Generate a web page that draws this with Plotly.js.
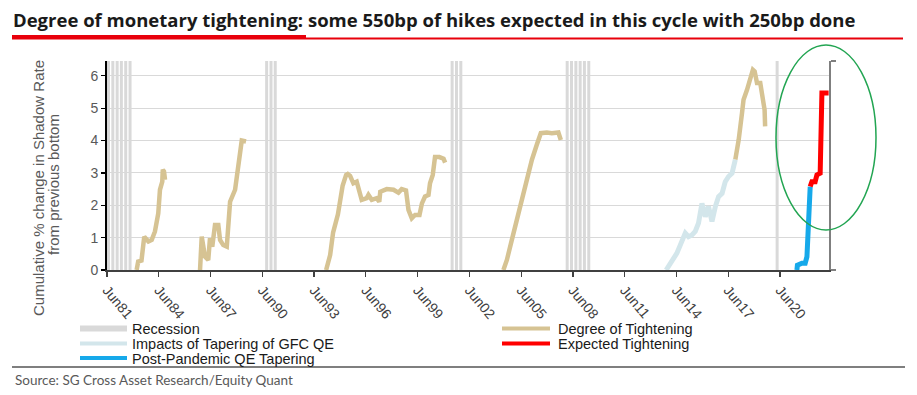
<!DOCTYPE html>
<html><head><meta charset="utf-8">
<script src="https://cdn.plot.ly/plotly-3.0.1.min.js"></script>
<style>html,body{margin:0;padding:0;background:#fff}#chart{width:917px;height:395px}</style>
</head><body><div id="chart"></div>
<script>
// ---------- texts ----------
const titleText = 'Degree of monetary tightening: some 550bp of hikes expected in this cycle with 250bp done';
const sourceText = 'Source: SG Cross Asset Research/Equity Quant';
const yTitleLine1 = 'Cumulative % change in Shadow Rate';
const yTitleLine2 = 'from previous bottom';

// ---------- x ticks ----------
const tickDates = ['1981-07-01','1984-07-01','1987-07-01','1990-07-01','1993-07-01','1996-07-01','1999-07-01','2002-07-01','2005-07-01','2008-07-01','2011-07-01','2014-07-01','2017-07-01','2020-07-01'];
const tickLabels = ['Jun81','Jun84','Jun87','Jun90','Jun93','Jun96','Jun99','Jun02','Jun05','Jun08','Jun11','Jun14','Jun17','Jun20'];
const yTickVals = [0,1,2,3,4,5,6];

// ---------- recessions ----------
const recessionStart = ['1981-08-01','1990-10-01','2001-07-01','2008-03-01','2020-05-01'];
const recessionEnd   = ['1982-12-31','1991-05-31','2002-01-31','2009-08-01','2020-05-31'];

// ---------- Degree of Tightening cycles ----------
const cycle1983Dates = ['1983-03-20','1983-04-22','1983-07-01','1983-08-28','1983-11-25','1984-02-03','1984-04-11','1984-06-20','1984-07-26','1984-09-13','1984-09-24','1984-10-19','1984-11-10'];
const cycle1983Values = [0,0.26,0.29,1.03,0.88,0.93,1.19,1.75,2.48,2.73,3.10,3.05,2.79];

const cycle1987Dates = ['1986-11-21','1986-12-27','1987-03-06','1987-05-14','1987-06-20','1987-08-07','1987-10-04','1987-12-13','1988-01-19','1988-03-27','1988-06-09','1988-08-18','1988-12-02','1989-02-10','1989-04-22','1989-07-22'];
const cycle1987Values = [0,1.03,0.41,0.31,0.98,0.72,1.39,1.39,0.93,0.77,0.72,2.11,2.48,3.20,4.00,3.97];

const cycle1994Dates = ['1994-03-13','1994-06-06','1994-08-07','1994-11-18','1995-02-25','1995-05-10','1995-06-13','1995-08-03','1995-10-11','1995-12-20','1996-04-04','1996-07-19','1996-08-25','1996-11-03','1997-02-17','1997-04-11','1997-05-02','1997-09-16','1998-02-07','1998-05-21','1998-07-29','1998-10-29','1998-12-20','1999-02-28','1999-05-10','1999-08-10','1999-10-01','1999-12-05','2000-02-17','2000-03-20','2000-05-17','2000-07-04','2000-10-04','2001-01-01','2001-02-03'];
const cycle1994Values = [0,0.46,1.15,1.72,2.60,2.94,2.97,2.91,2.68,2.73,2.17,2.22,2.32,2.17,2.22,2.11,2.42,2.50,2.48,2.39,2.50,2.46,1.86,1.60,1.70,1.70,2.06,2.27,2.32,2.68,2.94,3.49,3.49,3.44,3.32];

const cycle2004Dates = ['2004-06-20','2004-09-02','2004-12-16','2005-04-01','2005-07-15','2005-10-29','2006-02-14','2006-05-28','2006-08-21','2006-12-27','2007-04-11','2007-08-28','2007-10-19'];
const cycle2004Values = [0,0.31,0.93,1.55,2.11,2.73,3.41,3.87,4.23,4.25,4.23,4.25,4.02];

const cycle2018Dates = ['2017-11-28','2018-02-07','2018-04-19','2018-05-21','2018-08-03','2018-10-11','2018-12-05','2019-01-11','2019-03-02','2019-05-10','2019-06-13','2019-08-10','2019-08-21'];
const cycle2018Values = [3.41,4.02,4.85,5.26,5.57,5.93,6.19,6.14,5.78,5.78,5.37,4.95,4.44];

// ---------- Impacts of Tapering of GFC QE ----------
const gfcTaperDates = ['2013-11-25','2014-02-21','2014-04-29','2014-07-11','2014-09-20','2015-01-04','2015-03-13','2015-05-25','2015-08-03','2015-10-11','2015-12-23','2016-03-02','2016-05-10','2016-07-22','2016-10-01','2016-12-09','2017-02-21','2017-04-29','2017-07-08','2017-09-20','2017-11-28'];
const gfcTaperValues = [0,0.21,0.36,0.52,0.77,1.14,1.03,1.08,1.19,1.45,2.06,1.65,1.96,1.50,1.96,2.27,2.37,2.73,2.89,2.99,3.41];

// ---------- Post-Pandemic QE Tapering ----------
const pandemicDates = ['2021-06-24','2021-07-04','2021-10-08','2021-12-16','2022-01-22','2022-02-25','2022-04-01'];
const pandemicValues = [0,0.15,0.21,0.21,0.41,1.65,2.58];

// ---------- Expected Tightening ----------
const expectedDates = ['2022-04-01','2022-05-07','2022-07-15','2022-08-21','2022-10-29','2022-11-21','2022-12-05','2023-04-26'];
const expectedValues = [2.58,2.73,2.73,2.94,2.99,4.23,5.47,5.47];

// ---------- styling ----------
const yTop = 6.46;
const xRange = ['1981-07-01','2023-05-04'];
const colTan = '#d6c393', colLightBlue = '#d3e6eb', colBlue = '#16a9ea', colRed = '#ff0000', colRec = '#d9d9d9';

// plot area in pixels
const PL = 107, PR = 829, PT = 61, PB = 270, W = 917, H = 395;
const px2x = p => (p - PL) / (PR - PL);
const py2y = p => (PB - p) / (PB - PT);

function pad(n){return (n<10?'0':'')+n;}
function fmt(d){return d.getUTCFullYear()+'-'+pad(d.getUTCMonth()+1)+'-'+pad(d.getUTCDate());}

// recession stripes: quarterly vertical lines within each period
const recX = [], recY = [];
recessionStart.forEach((s, i) => {
  let d = new Date(s + 'T00:00:00Z');
  const e = new Date(recessionEnd[i] + 'T00:00:00Z');
  while (d <= e) {
    recX.push(fmt(d), fmt(d), null);
    recY.push(0, yTop, null);
    d = new Date(Date.UTC(d.getUTCFullYear(), d.getUTCMonth() + 3, 1));
  }
});

function joinSegments(list){
  const xs = [], ys = [];
  list.forEach((seg, i) => {
    if (i) { xs.push(null); ys.push(null); }
    xs.push(...seg[0]); ys.push(...seg[1]);
  });
  return [xs, ys];
}
const [tightX, tightY] = joinSegments([
  [cycle1983Dates, cycle1983Values],
  [cycle1987Dates, cycle1987Values],
  [cycle1994Dates, cycle1994Values],
  [cycle2004Dates, cycle2004Values],
  [cycle2018Dates, cycle2018Values]
]);

const traces = [
  {name:'Recession', x:recX, y:recY, yaxis:'y2', mode:'lines', line:{color:colRec, width:3}, hoverinfo:'skip', showlegend:false, connectgaps:false},
  {name:'Degree of Tightening', x:tightX, y:tightY, mode:'lines', line:{color:colTan, width:4.5}, showlegend:false, connectgaps:false},
  {name:'Impacts of Tapering of GFC QE', x:gfcTaperDates, y:gfcTaperValues, mode:'lines', line:{color:colLightBlue, width:5}, showlegend:false},
  {name:'Post-Pandemic QE Tapering', x:pandemicDates, y:pandemicValues, mode:'lines', line:{color:colBlue, width:5}, showlegend:false},
  {name:'Expected Tightening', x:expectedDates, y:expectedValues, mode:'lines', line:{color:colRed, width:5}, showlegend:false}
];

// manual legend (two columns)
const legendItems = [
  {name:traces[0].name, color:colRec, width:6, col:0, row:0},
  {name:traces[2].name, color:colLightBlue, width:4, col:0, row:1},
  {name:traces[3].name, color:colBlue, width:4, col:0, row:2},
  {name:traces[1].name, color:colTan, width:4, col:1, row:0},
  {name:traces[4].name, color:colRed, width:4, col:1, row:1}
];
const legSwX = [[80,127],[502,550]], legTxtX = [130,556], legRowY = [328.5,343.5,358];

const shapes = [], annotations = [];
legendItems.forEach(it => {
  const y = py2y(legRowY[it.row]);
  shapes.push({type:'line', xref:'paper', yref:'paper', x0:px2x(legSwX[it.col][0]), x1:px2x(legSwX[it.col][1]), y0:y, y1:y, line:{color:it.color, width:it.width}});
  annotations.push({xref:'paper', yref:'paper', x:px2x(legTxtX[it.col]), y:py2y(legRowY[it.row]+0.5), xanchor:'left', yanchor:'middle', showarrow:false, text:it.name, font:{family:'Liberation Sans, Arial, sans-serif', size:14.5, color:'#1a1a1a'}});
});

// title underline (thin full + thick part)
shapes.push({type:'line', xref:'paper', yref:'paper', x0:px2x(12), x1:px2x(903), y0:py2y(38.5), y1:py2y(38.5), line:{color:'#e8000b', width:2}});
shapes.push({type:'line', xref:'paper', yref:'paper', x0:px2x(12), x1:px2x(306), y0:py2y(37), y1:py2y(37), line:{color:'#e8000b', width:4}});
// bottom separator
shapes.push({type:'line', xref:'paper', yref:'paper', x0:px2x(12), x1:px2x(905), y0:py2y(367), y1:py2y(367), line:{color:'#7f7f7f', width:2}});
// green ellipse highlight
shapes.push({type:'circle', xref:'paper', yref:'paper', x0:px2x(776), x1:px2x(876), y0:py2y(230), y1:py2y(45), line:{color:'#22a552', width:1.5}});

// y axis title (two lines)
annotations.push({xref:'paper', yref:'paper', x:px2x(38), y:py2y(188), xanchor:'center', yanchor:'middle', textangle:-90, showarrow:false, text:yTitleLine1, font:{family:'Liberation Sans, Arial, sans-serif', size:15, color:'#595959'}});
annotations.push({xref:'paper', yref:'paper', x:px2x(53), y:py2y(185), xanchor:'center', yanchor:'middle', textangle:-90, showarrow:false, text:yTitleLine2, font:{family:'Liberation Sans, Arial, sans-serif', size:15, color:'#595959'}});
// source
annotations.push({xref:'paper', yref:'paper', x:px2x(13), y:py2y(380), xanchor:'left', yanchor:'middle', showarrow:false, text:sourceText, font:{family:'Lato, sans-serif', size:13.5, color:'#595959'}});

const layout = {
  width: W, height: H,
  margin: {l:PL, r:W-PR, t:PT, b:H-PB, pad:0},
  paper_bgcolor:'#ffffff', plot_bgcolor:'#ffffff',
  showlegend:false,
  title: {text:'<b>'+titleText+'</b>', x:13/W, xref:'container', xanchor:'left', y:1-21/H, yref:'container', yanchor:'middle', font:{family:'Open Sans, sans-serif', size:18.5, color:'#1a1a1a'}},
  xaxis: {type:'date', range:xRange, tickmode:'array', tickvals:tickDates, ticktext:tickLabels, tickangle:50,
          showgrid:false, zeroline:false, showline:true, linecolor:'#404040', linewidth:1.5,
          ticks:'outside', ticklen:5, tickcolor:'#404040', tickwidth:1.2,
          tickfont:{family:'Liberation Sans, Arial, sans-serif', size:14, color:'#404040'}},
  yaxis: {range:[0,yTop], tickmode:'array', tickvals:yTickVals, showgrid:true, gridcolor:'#d9d9d9', gridwidth:1,
          zeroline:false, showline:true, linecolor:'#000000', linewidth:2,
          ticks:'outside', ticklen:4, tickcolor:'#000000', tickwidth:1.2,
          tickfont:{family:'Liberation Sans, Arial, sans-serif', size:14, color:'#595959'}},
  yaxis2: {overlaying:'y', side:'right', range:[0,yTop], tickmode:'array', tickvals:[0,yTop], showticklabels:false,
           showgrid:false, zeroline:false, showline:true, linecolor:'#7f7f7f', linewidth:1.5,
           ticks:'outside', ticklen:5, tickcolor:'#7f7f7f', tickwidth:1.2},
  shapes: shapes,
  annotations: annotations
};

Plotly.newPlot('chart', traces, layout, {displayModeBar:false, staticPlot:true});
</script>
</body></html>
